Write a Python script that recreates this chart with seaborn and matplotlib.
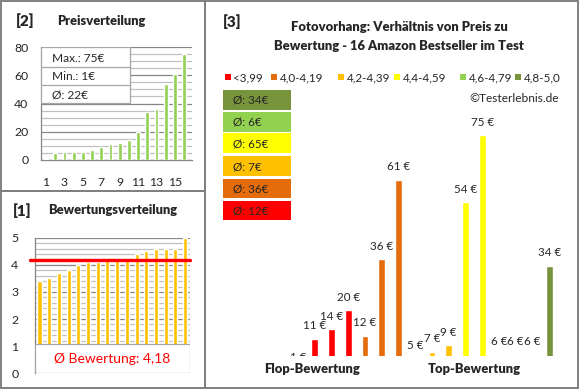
import seaborn as sns
import matplotlib.pyplot as plt
from matplotlib.patches import Rectangle
from matplotlib.lines import Line2D

# data
prices = [1, 5, 6, 6, 6, 7, 9, 11, 12, 14, 20, 34, 36, 54, 61, 75]
ratings = [3.4, 3.5, 3.7, 3.8, 4.0, 4.1, 4.1, 4.2, 4.2, 4.2, 4.4, 4.5, 4.6, 4.6, 4.6, 5.0]
price_ticks = [1, 3, 5, 7, 9, 11, 13, 15]

groups = ["<3,99", "4,0-4,19", "4,2-4,39", "4,4-4,59", "4,6-4,79", "4,8-5,0"]
group_colors = ["#FF0000", "#E46C0A", "#FFC000", "#FFFF00", "#92D050", "#77933C"]
# bars of chart [3]: price per product, ordered by rating group
flop_top_prices = [1, 11, 14, 20, 12, 36, 61, 5, 7, 9, 54, 75, 6, 6, 6, 34]
flop_top_groups = ["<3,99"] * 4 + ["4,0-4,19"] * 3 + ["4,2-4,39"] * 3 + \
                  ["4,4-4,59"] * 2 + ["4,6-4,79"] * 3 + ["4,8-5,0"]
group_avg = [34, 6, 65, 7, 36, 12]          # top to bottom boxes
box_groups = ["4,8-5,0", "4,6-4,79", "4,4-4,59", "4,2-4,39", "4,0-4,19", "<3,99"]

sns.set_style("white")
plt.rcParams['font.family'] = ['Lato', 'DejaVu Sans']

W, H = 580, 390
fig = plt.figure(figsize=(5.8, 3.9), dpi=100)
fig.patch.set_facecolor("white")


def fx(x):
    return x / W


def fy(y):
    return 1 - y / H


def add_ax(l, t, r, b):
    return fig.add_axes([fx(l), fy(b), (r - l) / W, (b - t) / H])


def ftext(x, y, s, **kw):
    kw.setdefault("va", "center")
    fig.text(fx(x), fy(y), s, **kw)


def frect(l, t, r, b, **kw):
    fig.add_artist(Rectangle((fx(l), fy(b)), (r - l) / W, (b - t) / H,
                             transform=fig.transFigure, **kw))


grid_major = "#868686"
grid_minor = "#C0C0C0"
bold = "heavy"

# panel frames
for l, t, r, b in [(1, 1, 205, 191), (1, 191, 205, 388), (205, 1, 578, 388)]:
    frect(l, t, r, b, fill=False, edgecolor="#808080", lw=1.4)

# ---------- [2] Preisverteilung ----------
ax2 = add_ax(41, 47, 192, 160)
sns.barplot(x=list(range(16)), y=prices, color="#92D050", width=0.42,
            saturation=1, ax=ax2, zorder=3)
ax2.set_xlim(-0.55, 15.85)
ax2.set_ylim(0, 80)
ax2.set_yticks(range(0, 81, 20))
ax2.set_yticks(range(0, 81, 5), minor=True)
ax2.grid(which="minor", axis="y", color=grid_minor, lw=0.9)
ax2.grid(which="major", axis="y", color=grid_major, lw=0.9)
ax2.set_axisbelow(True)
ax2.set_xticks([p - 1 for p in price_ticks])
ax2.set_xticklabels([str(p) for p in price_ticks])
ax2.tick_params(axis="x", length=0, pad=12, labelsize=8.8)
ax2.tick_params(axis="y", which="both", length=0, pad=9, labelsize=8.8)
ax2.set_xlabel("")
ax2.set_ylabel("")
for s in ["top", "right"]:
    ax2.spines[s].set_visible(False)
for s in ["left", "bottom"]:
    ax2.spines[s].set_color(grid_major)
    ax2.spines[s].set_linewidth(0.9)

tab_r = (130 - 41) / 151
tab_b = (160 - 103) / 113
ax2.add_patch(Rectangle((0, tab_b), tab_r, 1 - tab_b, transform=ax2.transAxes,
                        facecolor="white", edgecolor="#A6A6A6", lw=0.9, zorder=5))
for yy in [67, 85]:
    ya = (160 - yy) / 113
    ax2.add_line(Line2D([0, tab_r], [ya, ya], transform=ax2.transAxes,
                        color="#A6A6A6", lw=0.9, zorder=6))
for yy, s in zip([58, 76, 95], ["Max.: 75€", "Min.: 1€", "Ø: 22€"]):
    ftext(52, yy, s, fontsize=8.6, zorder=7)

ftext(16, 21, "[2]", fontsize=11, fontweight=bold)
ftext(57, 21, "Preisverteilung", fontsize=9.3, fontweight=bold)

# ---------- [1] Bewertungsverteilung ----------
ax1 = add_ax(35, 237.7, 190, 373.3)
sns.barplot(x=list(range(16)), y=ratings, color="#FFC000", width=0.42,
            saturation=1, ax=ax1, zorder=3)
ax1.set_xlim(-0.46, 15.5)
ax1.set_ylim(0, 5)
ax1.set_yticks(range(0, 6))
ax1.set_yticks([i / 5 for i in range(26)], minor=True)
ax1.grid(which="minor", axis="y", color=grid_minor, lw=0.9)
ax1.grid(which="major", axis="y", color=grid_major, lw=0.9)
ax1.set_axisbelow(True)
ax1.set_xticks([])
ax1.tick_params(axis="y", which="major", length=4, color=grid_major,
                pad=8, labelsize=8.8)
ax1.tick_params(axis="y", which="minor", length=0)
ax1.set_xlabel("")
ax1.set_ylabel("")
for s in ["top", "right", "bottom"]:
    ax1.spines[s].set_visible(False)
ax1.spines["left"].set_color(grid_major)
ax1.spines["left"].set_linewidth(0.9)

avg_rating = sum(ratings) / len(ratings)
ax1.plot([-0.97, 15.5], [avg_rating, avg_rating], color="#FF0000", lw=2.4,
         clip_on=False, zorder=6)
ax1.add_patch(Rectangle((0, 0), 1, 1.07 / 5, transform=ax1.transAxes,
                        facecolor="white", edgecolor="#A6A6A6", lw=0.9, zorder=5))
ftext(112, 359, "Ø Bewertung: " + f"{avg_rating:.2f}".replace(".", ","),
      fontsize=10, color="#FF0000", ha="center", zorder=7)

ftext(13, 211, "[1]", fontsize=11, fontweight=bold)
ftext(48, 210, "Bewertungsverteilung", fontsize=9.3, fontweight=bold)

# ---------- [3] Preis zu Bewertung ----------
ax3 = add_ax(280, 100, 570, 356)
sns.barplot(x=[f"p{i}" for i in range(16)], y=flop_top_prices,
            hue=flop_top_groups, palette=dict(zip(groups, group_colors)),
            dodge=False, legend=False, width=0.4, saturation=1, ax=ax3)
ax3.set_xlim(-1.07, 16.24)
ax3.set_ylim(5.65, 86.15)
ax3.axis("off")
for i, v in enumerate(flop_top_prices):
    ax3.annotate(f"{v} €", xy=(i, v), xytext=(0, 9.4), textcoords="offset points",
                 ha="center", va="center", fontsize=8.4, annotation_clip=False,
                 clip_on=True)

ftext(223, 22, "[3]", fontsize=11, fontweight=bold)
ftext(399, 27, "Fotovorhang: Verhältnis von Preis zu", fontsize=9.4,
      fontweight=bold, ha="center")
ftext(399, 46, "Bewertung - 16 Amazon Bestseller im Test", fontsize=9.4,
      fontweight=bold, ha="center")

for xs, g, c in zip([225, 271, 338, 394, 460, 515], groups, group_colors):
    frect(xs, 74, xs + 6, 80, facecolor=c, edgecolor="none")
    ftext(xs + 8.5, 77.5, g, fontsize=8.4)

ftext(469, 99, "©Testerlebnis.de", fontsize=8.6)

box_rows = [(90, 110), (112, 132), (133, 153), (156, 176), (179, 198), (201, 220)]
color_of = dict(zip(groups, group_colors))
for (t, b), g, a in zip(box_rows, box_groups, group_avg):
    frect(223, t, 291, b, facecolor=color_of[g], edgecolor="none")
    ftext(233, (t + b) / 2 + 0.5, f"Ø: {a}€", fontsize=8.4)

ftext(312, 369, "Flop-Bewertung", fontsize=9.4, fontweight=bold, ha="center")
ftext(474, 369, "Top-Bewertung", fontsize=9.4, fontweight=bold, ha="center")

fig.savefig("out.png", dpi=100)
